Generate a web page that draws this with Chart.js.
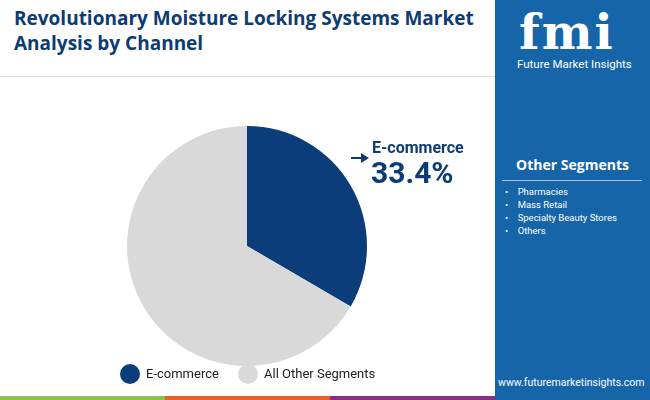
<!DOCTYPE html>
<html><head><meta charset="utf-8">
<script src="https://cdn.jsdelivr.net/npm/chart.js@4"></script>
<style>
body{margin:0;width:650px;height:400px;position:relative;overflow:hidden;background:#fff;font-family:Roboto,"Open Sans",sans-serif}
.abs{position:absolute}
#title{left:14px;top:6px;font-size:19px;font-weight:bold;color:#0d3b73;line-height:25px;font-family:"Open Sans",Roboto,sans-serif}
#rule{left:0;top:76px;width:495px;height:1px;background:#ddd}
#panel{left:495px;top:0;width:155px;height:400px;background:#1565a8;color:#fff}
.bar{top:396px;height:4px}
</style></head><body>
<div id="title" class="abs">Revolutionary Moisture Locking Systems Market<br>Analysis by Channel</div>
<div id="rule" class="abs"></div>
<div id="panel" class="abs">
 <div class="abs" style="left:24px;top:4px;font:bold 48px 'DejaVu Serif',serif;letter-spacing:2px">fmi</div>
 <div class="abs" style="left:22px;top:57px;font-size:11.5px">Future Market Insights</div>
 <div class="abs" style="left:0;width:155px;top:155px;text-align:center;font:bold 14px 'Open Sans',sans-serif">Other Segments</div>
 <div class="abs" style="left:7px;top:180px;width:140px;height:1px;background:#a9c4e0"></div>
 <div class="abs" style="left:10px;top:185px;font-size:9.5px;line-height:13px">
  •&nbsp;&nbsp;&nbsp;&nbsp;Pharmacies<br>•&nbsp;&nbsp;&nbsp;&nbsp;Mass Retail<br>•&nbsp;&nbsp;&nbsp;&nbsp;Specialty Beauty Stores<br>•&nbsp;&nbsp;&nbsp;&nbsp;Others</div>
 <div class="abs" style="left:3px;top:376px;font-size:10.5px">www.futuremarketinsights.com</div>
</div>
<div class="abs bar" style="left:0;width:165px;background:#8bc34a"></div>
<div class="abs bar" style="left:165px;width:165px;background:#e8612c"></div>
<div class="abs bar" style="left:330px;width:165px;background:#8a2c88"></div>
<div class="abs" style="left:122px;top:121px;width:250px;height:250px"><canvas id="c"></canvas></div>
<svg class="abs" style="left:345px;top:150px" width="25" height="16"><line x1="6" y1="8" x2="18" y2="8" stroke="#0d3b73" stroke-width="2"/><polygon points="24,8 16,3 16,13" fill="#0d3b73"/></svg>
<div class="abs" style="left:372px;top:138px;font-size:16px;font-weight:bold;color:#0d3b73">E-commerce</div>
<div class="abs" style="left:371px;top:155px;font-size:30px;font-weight:bold;color:#0d3b73">33.4%</div>
<div class="abs" style="left:120px;top:364px;width:20px;height:20px;border-radius:50%;background:#0b3d7a"></div>
<div class="abs" style="left:146px;top:366px;font-size:13px;color:#222">E-commerce</div>
<div class="abs" style="left:238px;top:364px;width:20px;height:20px;border-radius:50%;background:#d9d9d9"></div>
<div class="abs" style="left:264px;top:366px;font-size:13px;color:#222">All Other Segments</div>
<script>
const categories=["E-commerce","All Other Segments"];
const values=[33.4,66.6];
const colors=["#0b3d7a","#d9d9d9"];
new Chart(document.getElementById('c'),{type:'pie',
 data:{labels:categories,datasets:[{data:values,backgroundColor:colors,borderWidth:0}]},
 options:{responsive:true,maintainAspectRatio:false,animation:false,layout:{padding:5},
  plugins:{legend:{display:false},tooltip:{enabled:false}}}});
</script>
</body></html>
